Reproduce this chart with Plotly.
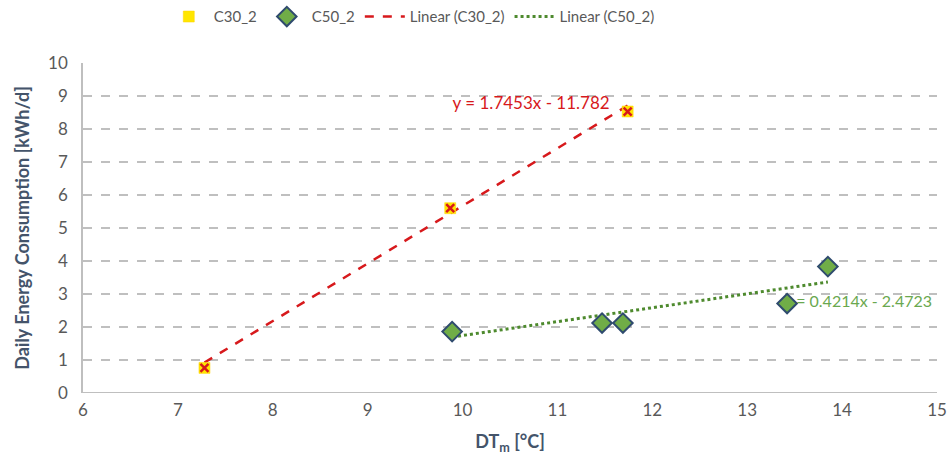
import plotly.graph_objects as go

# Measured points
c30_x = [7.28, 9.87, 11.74]
c30_y = [0.76, 5.60, 8.53]
c50_x = [9.89, 11.47, 11.69, 13.42, 13.85]
c50_y = [1.86, 2.12, 2.12, 2.71, 3.83]

# Linear trend coefficients (slope, intercept)
c30_fit = (1.7453, -11.782)
c50_fit = (0.4214, -2.4723)

x_ticks = [6, 7, 8, 9, 10, 11, 12, 13, 14, 15]
y_ticks = [0, 1, 2, 3, 4, 5, 6, 7, 8, 9, 10]

FONT = "Lato, 'Open Sans', Arial, sans-serif"
TICK_COLOR = "#595959"
TITLE_COLOR = "#44546A"
RED = "#D7191C"
GREEN = "#4E8A2E"


def trend(xs, fit):
    lo, hi = min(xs), max(xs)
    return [lo, hi], [fit[0] * lo + fit[1], fit[0] * hi + fit[1]]


def eq_text(fit):
    sign = "-" if fit[1] < 0 else "+"
    return f"y = {fit[0]:.4f}x {sign} {abs(fit[1]):.{3 if abs(fit[1]) >= 10 else 4}f}"


fig = go.Figure()

# Equation labels sit beneath the markers
fig.add_trace(go.Scatter(
    x=[11.55], y=[8.74], mode="text", text=[eq_text(c30_fit)],
    textposition="middle left", textfont=dict(family=FONT, size=17, color=RED),
    showlegend=False, hoverinfo="skip"))
fig.add_trace(go.Scatter(
    x=[13.39], y=[2.72], mode="text", text=[eq_text(c50_fit)],
    textposition="middle right", textfont=dict(family=FONT, size=16, color="#6AA84F"),
    showlegend=False, hoverinfo="skip"))

# Trend lines
tx, ty = trend(c30_x, c30_fit)
fig.add_trace(go.Scatter(
    x=tx, y=ty, mode="lines", name="Linear (C30_2)",
    line=dict(color=RED, width=2.5, dash="dash"), legendrank=3))
tx, ty = trend(c50_x, c50_fit)
fig.add_trace(go.Scatter(
    x=tx, y=ty, mode="lines", name="Linear (C50_2)",
    line=dict(color=GREEN, width=3, dash="dot"), legendrank=4))

# C30_2 markers: yellow square with red cross
fig.add_trace(go.Scatter(
    x=c30_x, y=c30_y, mode="markers", name="C30_2", legendgroup="c30",
    marker=dict(symbol="square", size=11, color="#FFE600",
                line=dict(color="#FFD200", width=0.5)), legendrank=1))
fig.add_trace(go.Scatter(
    x=c30_x, y=c30_y, mode="markers", showlegend=False, legendgroup="c30",
    marker=dict(symbol="x-thin", size=8, color=RED,
                line=dict(color=RED, width=2.5)), hoverinfo="skip"))

# C50_2 markers: green diamonds with dark blue outline
fig.add_trace(go.Scatter(
    x=c50_x, y=c50_y, mode="markers", name="C50_2",
    marker=dict(symbol="diamond", size=15, color="#70AD47",
                line=dict(color="#2F4B6E", width=2)), legendrank=2))

fig.update_layout(
    width=951, height=462,
    margin=dict(l=83, r=14, t=63, b=69, autoexpand=False),
    paper_bgcolor="white", plot_bgcolor="white",
    font=dict(family=FONT, size=15, color=TICK_COLOR),
    showlegend=True,
    legend=dict(orientation="h", x=0.385, xanchor="center", y=1.14, yanchor="middle",
                font=dict(size=15, color=TICK_COLOR), itemwidth=40,
                traceorder="normal", bgcolor="rgba(0,0,0,0)"),
    xaxis=dict(range=[6, 15], tickvals=x_ticks, showgrid=False, zeroline=False,
               showline=False, ticks="", ticklabelstandoff=5,
               tickfont=dict(size=17, color=TICK_COLOR),
               title=dict(text="DT<sub>m</sub> [°C]", standoff=16,
                          font=dict(size=18, color=TITLE_COLOR, weight="bold"))),
    yaxis=dict(range=[0, 10], tickvals=y_ticks, showgrid=True, gridcolor="#BFBFBF",
               griddash="dash", gridwidth=1.5, zeroline=False, showline=True,
               linecolor="#BFBFBF", linewidth=1.5, ticks="", ticklabelstandoff=10,
               tickfont=dict(size=17, color=TICK_COLOR),
               title=dict(text="Daily Energy Consumption [kWh/d]", standoff=14,
                          font=dict(size=18, color=TITLE_COLOR, weight="bold"))),
)

# Solid baseline along y = 0
fig.add_shape(type="line", xref="paper", yref="y", x0=0, x1=1, y0=0, y1=0,
              line=dict(color="#BFBFBF", width=2), layer="below")

fig.write_html("out.html")
